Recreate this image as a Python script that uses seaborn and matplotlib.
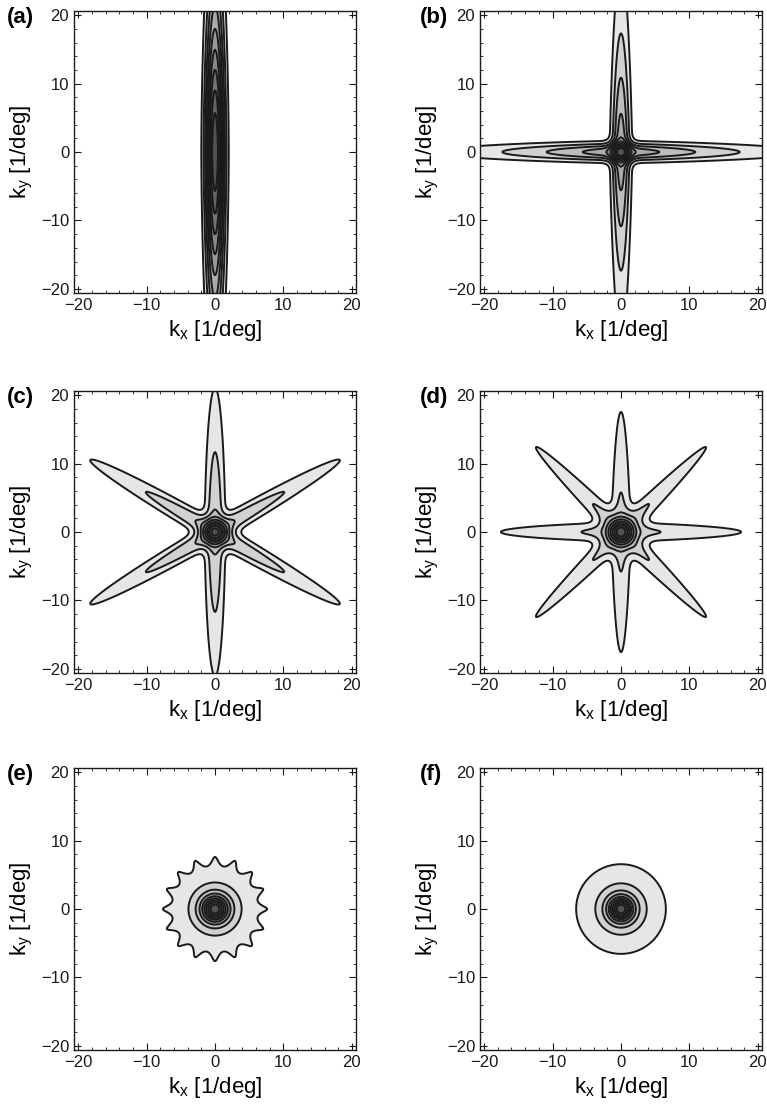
import numpy as np
import matplotlib
matplotlib.use("Agg")
import matplotlib.pyplot as plt
from matplotlib.ticker import MultipleLocator
import seaborn as sns

sns.set_theme(style="ticks")
plt.rcParams["font.family"] = ["Liberation Sans", "DejaVu Sans"]
plt.rcParams["mathtext.default"] = "regular"
plt.rcParams["text.color"] = "black"
plt.rcParams["axes.labelcolor"] = "black"

# panel tags and the arm orientations (deg) of each spectrum
panel_tags = ["(a)", "(b)", "(c)", "(d)", "(e)", "(f)"]
arm_angles = [
    [90],
    [0, 90],
    [90, 30, 150],
    [0, 45, 90, 135],
    [0, 22.5, 45, 67.5, 90, 112.5, 135, 157.5],
    None,  # isotropic
]
n_iso = 90  # directions used for the isotropic panel

# arm length / profile exponent / cusp / arm width
arm_len = [22.5, 18.6, 22.4, 18.8, 20.0, 20.0]
arm_pow = [1.64, 1.25, 2.00, 1.27, 1.40, 1.50]
arm_cusp = [0.0, 0.0, 0.07, 0.0, 0.0, 0.0]
arm_width = [1.32, 1.30, 1.45, 1.45, 1.45, 1.38]

levels = [0.1, 0.2, 0.3, 0.4, 0.5, 0.6, 0.7, 0.8, 0.9]
band_grays = ["0.90", "0.82", "0.74", "0.67", "0.60", "0.53", "0.46", "0.39", "0.32"]

ticks = [-20, -10, 0, 10, 20]
lim = 20.6

# axes rectangles in figure fractions
ax_left = [0.0965, 0.6258]
ax_bottom = [0.7346, 0.3904, 0.0489]
ax_w, ax_h = 0.3677, 0.2554

k = np.linspace(-lim, lim, 501)
KX, KY = np.meshgrid(k, k)


def spectrum(angles, L, p, s, w):
    F = np.zeros_like(KX)
    for a in angles:
        t = np.radians(a)
        par = np.abs(KX * np.cos(t) + KY * np.sin(t))
        perp = -KX * np.sin(t) + KY * np.cos(t)
        F += np.exp(-(par / L) ** p - s * np.sqrt(par) - (perp / w) ** 2)
    return F / len(angles)


fig = plt.figure(figsize=(7.67, 11.04), dpi=100)

for i in range(6):
    row, col = i // 2, i % 2
    ax = fig.add_axes([ax_left[col], ax_bottom[row], ax_w, ax_h])
    angles = arm_angles[i]
    if angles is None:
        angles = list(np.linspace(0, 180, n_iso, endpoint=False))
    F = spectrum(angles, arm_len[i], arm_pow[i], arm_cusp[i], arm_width[i])

    ax.contourf(KX, KY, F, levels=levels + [1.01], colors=band_grays)
    ax.contour(KX, KY, F, levels=levels, colors="k", linewidths=1.4)

    ax.set_xlim(-lim, lim)
    ax.set_ylim(-lim, lim)
    ax.set_xticks(ticks)
    ax.set_yticks(ticks)
    ax.xaxis.set_minor_locator(MultipleLocator(2))
    ax.yaxis.set_minor_locator(MultipleLocator(2))
    ax.tick_params(which="both", direction="in", top=True, right=True,
                   labelsize=12, color="k", labelcolor="k")
    ax.tick_params(which="major", length=5, width=0.8)
    ax.tick_params(which="minor", length=2.5, width=0.6)
    for s in ax.spines.values():
        s.set_linewidth(1.0)
        s.set_color("k")
    ax.set_xlabel("k$_x$ [1/deg]", fontsize=16, labelpad=4)
    ax.set_ylabel("k$_y$ [1/deg]", fontsize=16, labelpad=4)

    # panel letter next to the top tick label
    x_tag = [0.009, 0.547][col]
    y_top = ax_bottom[row] + ax_h
    fig.text(x_tag, y_top - 0.006, panel_tags[i], fontsize=16,
             fontweight="bold", va="center", ha="left")

fig.savefig("out.png", dpi=100)
